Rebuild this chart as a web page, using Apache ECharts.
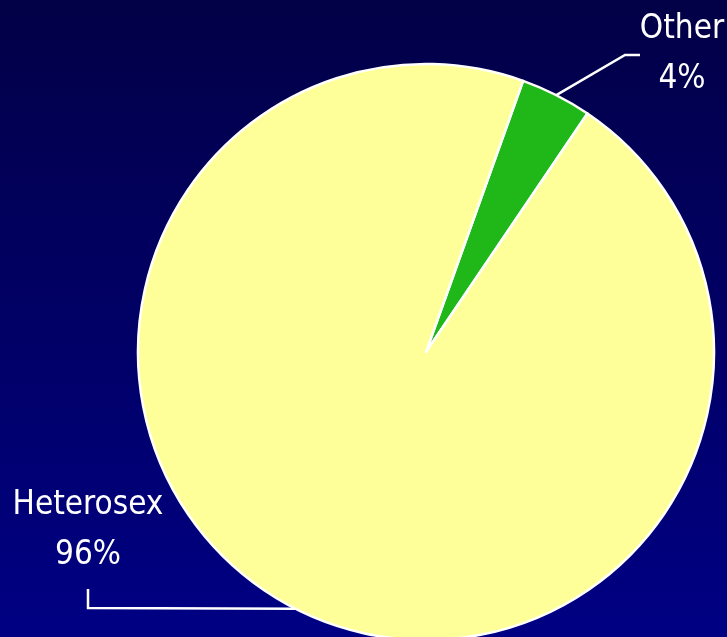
<!DOCTYPE html>
<html>
<head>
<meta charset="utf-8">
<script src="https://cdn.jsdelivr.net/npm/echarts@6/dist/echarts.min.js"></script>
<style>
html,body{margin:0;padding:0;}
#chart{width:727px;height:637px;}
</style>
</head>
<body>
<div id="chart"></div>
<script>
const categories = ['Other', 'Heterosex'];
const values = [4, 96];
const sliceColors = ['#20B818', '#FFFF99'];

const FONT = "'Liberation Sans Narrow', 'Arial Narrow', 'DejaVu Sans Condensed', sans-serif";
const chart = echarts.init(document.getElementById('chart'));

const labelPos = [
  { x: 682, y: 54 },
  { x: 88, y: 530 }
];

chart.setOption({
  backgroundColor: {
    type: 'linear', x: 0, y: 0, x2: 0, y2: 1,
    colorStops: [
      { offset: 0, color: '#020046' },
      { offset: 1, color: '#000084' }
    ]
  },
  animation: false,
  series: [{
    type: 'pie',
    center: [426, 352],
    radius: 288,
    startAngle: 70.3,
    clockwise: true,
    percentPrecision: 0,
    data: categories.map((c, i) => ({ name: c, value: values[i], itemStyle: { color: sliceColors[i] } })),
    itemStyle: { borderColor: '#ffffff', borderWidth: 2.5 },
    label: {
      show: true,
      position: 'outside',
      formatter: '{b}\n{d}%',
      color: '#ffffff',
      fontFamily: FONT,
      fontSize: 33,
      lineHeight: 50,
      align: 'center'
    },
    labelLine: {
      show: true,
      length: 30,
      length2: 30,
      lineStyle: { color: '#ffffff', width: 2.5 }
    },
    labelLayout: function (params) {
      const p = labelPos[params.dataIndex];
      const start = params.labelLinePoints ? params.labelLinePoints[0] : null;
      const res = { x: p.x, y: p.y, align: 'center', verticalAlign: 'middle' };
      if (start) {
        if (params.dataIndex === 0) {
          res.labelLinePoints = [start, [625, 55], [640, 55]];
        } else {
          res.labelLinePoints = [start, [88, 608], [88, 589]];
        }
      }
      return res;
    }
  }]
});
</script>
</body>
</html>
